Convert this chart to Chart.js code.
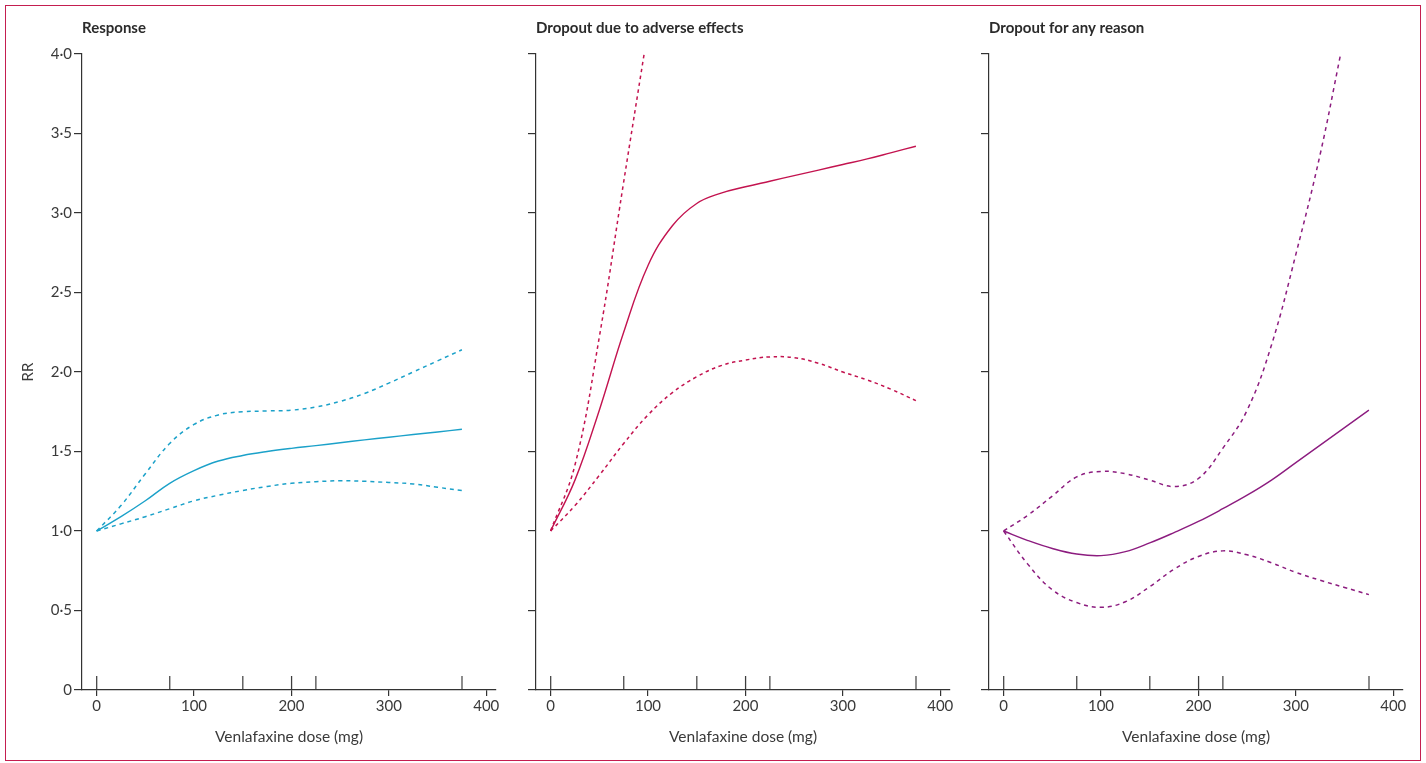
<!DOCTYPE html>
<html lang="en">
<head>
<meta charset="UTF-8">
<title>Venlafaxine dose–response curves</title>
<script src="https://cdn.jsdelivr.net/npm/chart.js"></script>
<style>
  body { margin: 0; background: #fff; }
  .frame { position: absolute; left: 5px; top: 5px; width: 1416px; height: 756px; box-sizing: border-box; border: 1.5px solid #c41e50; }
  .panel { position: absolute; top: 10px; width: 500px; height: 745px; }
</style>
</head>
<body>
<div class="frame"></div>
<div class="panel" style="left:10px"><canvas id="response"></canvas></div>
<div class="panel" style="left:464px"><canvas id="adverse"></canvas></div>
<div class="panel" style="left:917px"><canvas id="anyReason"></canvas></div>

<script>
// dose grid (mg) shared by most curves
const doses = [0, 25, 50, 75, 100, 125, 150, 175, 200, 225, 250, 275, 300, 325, 350, 375];

// Response
const responseRR    = [1.00, 1.09, 1.19, 1.30, 1.38, 1.44, 1.475, 1.50, 1.52, 1.537, 1.555, 1.573, 1.59, 1.607, 1.623, 1.64];
const responseUpper = [1.00, 1.16, 1.36, 1.55, 1.67, 1.73, 1.75, 1.755, 1.76, 1.78, 1.815, 1.865, 1.93, 2.00, 2.07, 2.14];
const responseLower = [1.00, 1.045, 1.09, 1.14, 1.19, 1.225, 1.255, 1.28, 1.30, 1.31, 1.316, 1.313, 1.305, 1.296, 1.275, 1.255];

// Dropout due to adverse effects
const adverseRR         = [1.00, 1.32, 1.76, 2.25, 2.67, 2.92, 3.06, 3.125, 3.165, 3.20, 3.235, 3.27, 3.305, 3.34, 3.38, 3.42];
const adverseUpperDoses = [0, 25, 50, 75, 96];
const adverseUpper      = [1.00, 1.415, 2.22, 3.195, 4.00];
const adverseLower      = [1.00, 1.16, 1.35, 1.55, 1.73, 1.87, 1.97, 2.04, 2.075, 2.095, 2.09, 2.055, 2.00, 1.95, 1.89, 1.82];

// Dropout for any reason
const anyRR         = [1.00, 0.94, 0.89, 0.855, 0.845, 0.87, 0.925, 0.99, 1.06, 1.14, 1.225, 1.32, 1.43, 1.54, 1.65, 1.76];
const anyUpperDoses = [0, 25, 50, 75, 100, 125, 150, 175, 200, 225, 250, 275, 300, 325, 346];
const anyUpper      = [1.00, 1.10, 1.22, 1.34, 1.375, 1.36, 1.32, 1.28, 1.33, 1.52, 1.76, 2.17, 2.74, 3.37, 4.00];
const anyLower      = [1.00, 0.79, 0.63, 0.55, 0.52, 0.555, 0.65, 0.76, 0.84, 0.875, 0.85, 0.80, 0.74, 0.69, 0.645, 0.60];

// doses of the included studies (rug marks on the x axis)
const studyDoses = [0, 75, 150, 200, 225, 375];

const doseTicks = [0, 100, 200, 300, 400];
const rrTicks = [0, 0.5, 1, 1.5, 2, 2.5, 3, 3.5, 4];

const ink = '#333';
Chart.defaults.font.family = 'Lato, sans-serif';
Chart.defaults.font.size = 15;
Chart.defaults.color = '#3a3a3a';

function pts(xs, ys) {
  return xs.map((x, i) => ({ x: x, y: ys[i] }));
}

// little upward tick used as point style for the rug
const rug = document.createElement('canvas');
rug.width = 3;
rug.height = 28;
const rc = rug.getContext('2d');
rc.fillStyle = ink;
rc.fillRect(1, 0, 1.2, 14);

function curve(data, color, dash) {
  return {
    data: data,
    borderColor: color,
    borderWidth: dash ? 1.5 : 1.4,
    borderDash: dash || [],
    pointRadius: 0,
    tension: 0.4
  };
}

function makePanel(id, title, color, mid, upper, lower, showLabels, dash) {
  new Chart(document.getElementById(id), {
    type: 'line',
    data: {
      datasets: [
        curve(mid, color),
        curve(upper, color, dash),
        curve(lower, color, dash),
        {
          data: studyDoses.map(d => ({ x: d, y: 0 })),
          showLine: false,
          pointStyle: rug,
          pointRadius: 1,
          clip: false
        }
      ]
    },
    options: {
      responsive: true,
      maintainAspectRatio: false,
      animation: false,
      layout: { padding: { left: 0, right: 14, top: 0, bottom: 0 } },
      plugins: {
        legend: { display: false },
        tooltip: { enabled: false },
        title: {
          display: true,
          text: title,
          align: 'start',
          fullSize: false,
          color: '#2b2b2b',
          font: { size: 15, weight: 'bold' },
          padding: { top: 9, bottom: 17 }
        }
      },
      scales: {
        x: {
          type: 'linear',
          min: -15,
          max: 410,
          afterBuildTicks: s => { s.ticks = doseTicks.map(v => ({ value: v })); },
          afterFit: s => { s.height = 65; },
          grid: { drawOnChartArea: false, tickLength: 6, color: ink, lineWidth: 1.2 },
          border: { color: ink, width: 1.2 },
          ticks: { padding: 1, maxRotation: 0, autoSkip: false },
          title: { display: true, text: 'Venlafaxine dose (mg)', font: { size: 15.5 }, padding: { top: 4, bottom: 9 } }
        },
        y: {
          min: 0,
          max: 4,
          afterBuildTicks: s => { s.ticks = rrTicks.map(v => ({ value: v })); },
          afterFit: s => { s.width = 72; },
          grid: { drawOnChartArea: false, tickLength: 8, color: ink, lineWidth: 1.2 },
          border: { color: ink, width: 1.2 },
          ticks: {
            display: showLabels,
            padding: 2,
            callback: v => v === 0 ? '0' : v.toFixed(1).replace('.', '·')
          },
          title: { display: showLabels, text: 'RR', padding: { top: 9, bottom: 0 } }
        }
      }
    }
  });
}

makePanel('response', 'Response', '#1ba1c9',
  pts(doses, responseRR), pts(doses, responseUpper), pts(doses, responseLower), true, [4, 4]);
makePanel('adverse', 'Dropout due to adverse effects', '#c3134f',
  pts(doses, adverseRR), pts(adverseUpperDoses, adverseUpper), pts(doses, adverseLower), false, [3.5, 3.5]);
makePanel('anyReason', 'Dropout for any reason', '#8c1c7f',
  pts(doses, anyRR), pts(anyUpperDoses, anyUpper), pts(doses, anyLower), false, [4, 4]);
</script>
</body>
</html>
